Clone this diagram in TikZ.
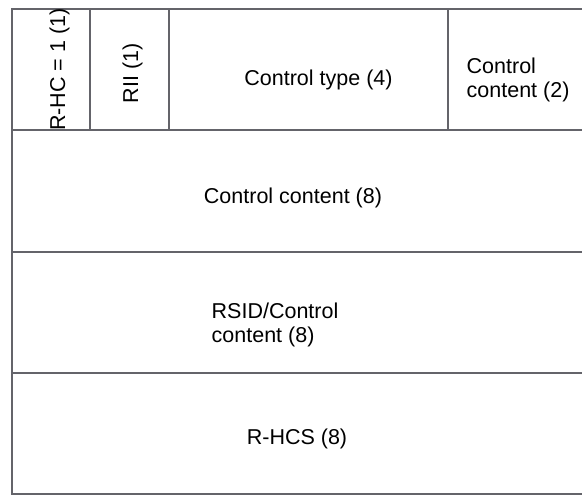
\documentclass[tikz,border=0pt]{standalone}
\definecolor{framegray}{RGB}{100, 100, 106}
\usepackage{fontspec}
\setmainfont{Liberation Sans}
\usepackage{tikz}
\usetikzlibrary{positioning}

\tikzset{
  gridline/.style={draw=framegray, line width=2pt},
  fieldtext/.style={font=\fontsize{21.5}{24}\selectfont, inner sep=0pt, text=black},
}

\begin{document}
\begin{tikzpicture}[x=1pt, y=-1pt]
  \useasboundingbox (0, 0) rectangle (582, 497);
  \clip (0, 0) rectangle (582, 497);

  % Frame and rows
  \draw[gridline] (11.5, 9) rectangle (600, 494);
  \draw[gridline] (11.5, 130.5) -- (600, 130.5);
  \draw[gridline] (11.5, 252) -- (600, 252);
  \draw[gridline] (11.5, 373.5) -- (600, 373.5);
  % First row columns
  \draw[gridline] (90, 9) -- (90, 130.5);
  \draw[gridline] (169, 9) -- (169, 130.5);
  \draw[gridline] (447.5, 9) -- (447.5, 130.5);

  % Field labels
  \node[fieldtext, rotate=90, anchor=base] (rhc) at (65, 69.5) {R-HC = 1 (1)};
  \node[fieldtext, rotate=90, anchor=base] (rii) at (138, 73.5) {RII (1)};
  \node[fieldtext, anchor=base] (ctype) at (318.5, 86) {Control type (4)};
  \node[fieldtext, align=left, anchor=west] (ccont2) at (466.5, 79.5) {Control\\content (2)};
  \node[fieldtext, anchor=base] (ccont8) at (293, 204) {Control content (8)};
  \node[fieldtext, align=left, anchor=west] (rsid) at (211.5, 324.5) {RSID/Control\\content (8)};
  \node[fieldtext, anchor=base] (rhcs) at (297, 444.5) {R-HCS (8)};
\end{tikzpicture}
\end{document}
